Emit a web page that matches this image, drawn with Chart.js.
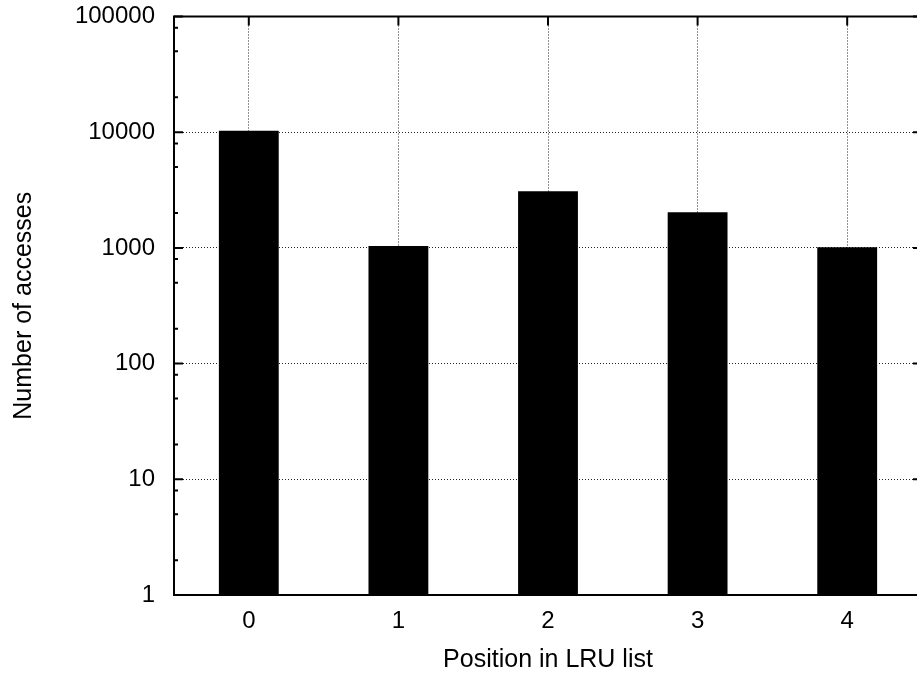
<!DOCTYPE html>
<html>
<head>
<meta charset="utf-8">
<script src="https://cdn.jsdelivr.net/npm/chart.js@4/dist/chart.umd.min.js"></script>
<style>
  html, body { margin: 0; padding: 0; background: #fff; width: 917px; height: 675px; overflow: hidden; }
  canvas { display: block; }
</style>
</head>
<body>
<canvas id="c" width="931" height="675" style="width:931px;height:675px"></canvas>
<script>
// ---- data ----
const categories = ["0", "1", "2", "3", "4"];
const accesses = [10300, 1040, 3090, 2030, 1015];
const yTicks = [1, 10, 100, 1000, 10000, 100000];
const yMinorFactors = [2, 5, 8];
const xTitle = "Position in LRU list";
const yTitle = "Number of accesses";

const FONT = "'Liberation Sans', Arial, Helvetica, sans-serif";

const framePlugin = {
  id: 'frame',
  afterDatasetsDraw(chart) {
    const {ctx, chartArea: a, scales: {x, y}} = chart;
    ctx.save();
    ctx.strokeStyle = '#000';
    ctx.lineWidth = 2;
    ctx.beginPath();
    const major = 9, minor = 4;
    yTicks.forEach(v => {
      const py = y.getPixelForValue(v);
      ctx.moveTo(a.left, py); ctx.lineTo(a.left + major, py);
      ctx.moveTo(a.right, py); ctx.lineTo(a.right - major, py);
    });
    for (let i = 0; i < yTicks.length - 1; i++) {
      yMinorFactors.forEach(f => {
        const py = y.getPixelForValue(yTicks[i] * f);
        ctx.moveTo(a.left, py); ctx.lineTo(a.left + minor, py);
        ctx.moveTo(a.right, py); ctx.lineTo(a.right - minor, py);
      });
    }
    categories.forEach((c, i) => {
      const px = x.getPixelForValue(i);
      ctx.moveTo(px, a.top); ctx.lineTo(px, a.top + major);
      ctx.moveTo(px, a.bottom); ctx.lineTo(px, a.bottom - major);
    });
    ctx.stroke();
    ctx.lineWidth = 2;
    ctx.strokeRect(a.left, a.top, a.right - a.left, a.bottom - a.top);
    ctx.restore();
  }
};

new Chart(document.getElementById('c'), {
  type: 'bar',
  data: {
    labels: categories,
    datasets: [{
      data: accesses,
      backgroundColor: '#000',
      borderWidth: 0,
      barPercentage: 0.4,
      categoryPercentage: 1.0
    }]
  },
  options: {
    responsive: false,
    animation: false,
    devicePixelRatio: 1,
    layout: { padding: { left: 0, right: 9, top: 0, bottom: 0 } },
    plugins: { legend: { display: false }, tooltip: { enabled: false } },
    scales: {
      x: {
        type: 'category',
        offset: true,
        grid: { offset: false, drawTicks: false, color: '#222', lineWidth: 1 },
        border: { display: false, dash: [1, 2] },
        ticks: { color: '#000', font: { family: FONT, size: 24 }, padding: 12, maxRotation: 0 },
        title: { display: true, text: xTitle, color: '#000', font: { family: FONT, size: 25 }, padding: { top: 0, bottom: 0 } },
        afterFit(s) { s.height = 80; s.paddingLeft = 0; s.paddingRight = 0; }
      },
      y: {
        type: 'logarithmic',
        min: 1,
        max: 100000,
        grid: { drawTicks: false, color: '#222', lineWidth: 1 },
        border: { display: false, dash: [1, 2] },
        afterBuildTicks(s) { s.ticks = yTicks.map(v => ({ value: v, major: true })); },
        ticks: {
          color: '#000',
          font: { family: FONT, size: 24 },
          padding: 19,
          callback: (v) => String(v)
        },
        title: { display: true, text: yTitle, color: '#000', font: { family: FONT, size: 25 }, padding: { top: 9, bottom: 0 } },
        afterFit(s) { s.width = 174; s.paddingTop = 16.5; s.paddingBottom = 0; }
      }
    }
  },
  plugins: [framePlugin]
});
</script>
</body>
</html>
